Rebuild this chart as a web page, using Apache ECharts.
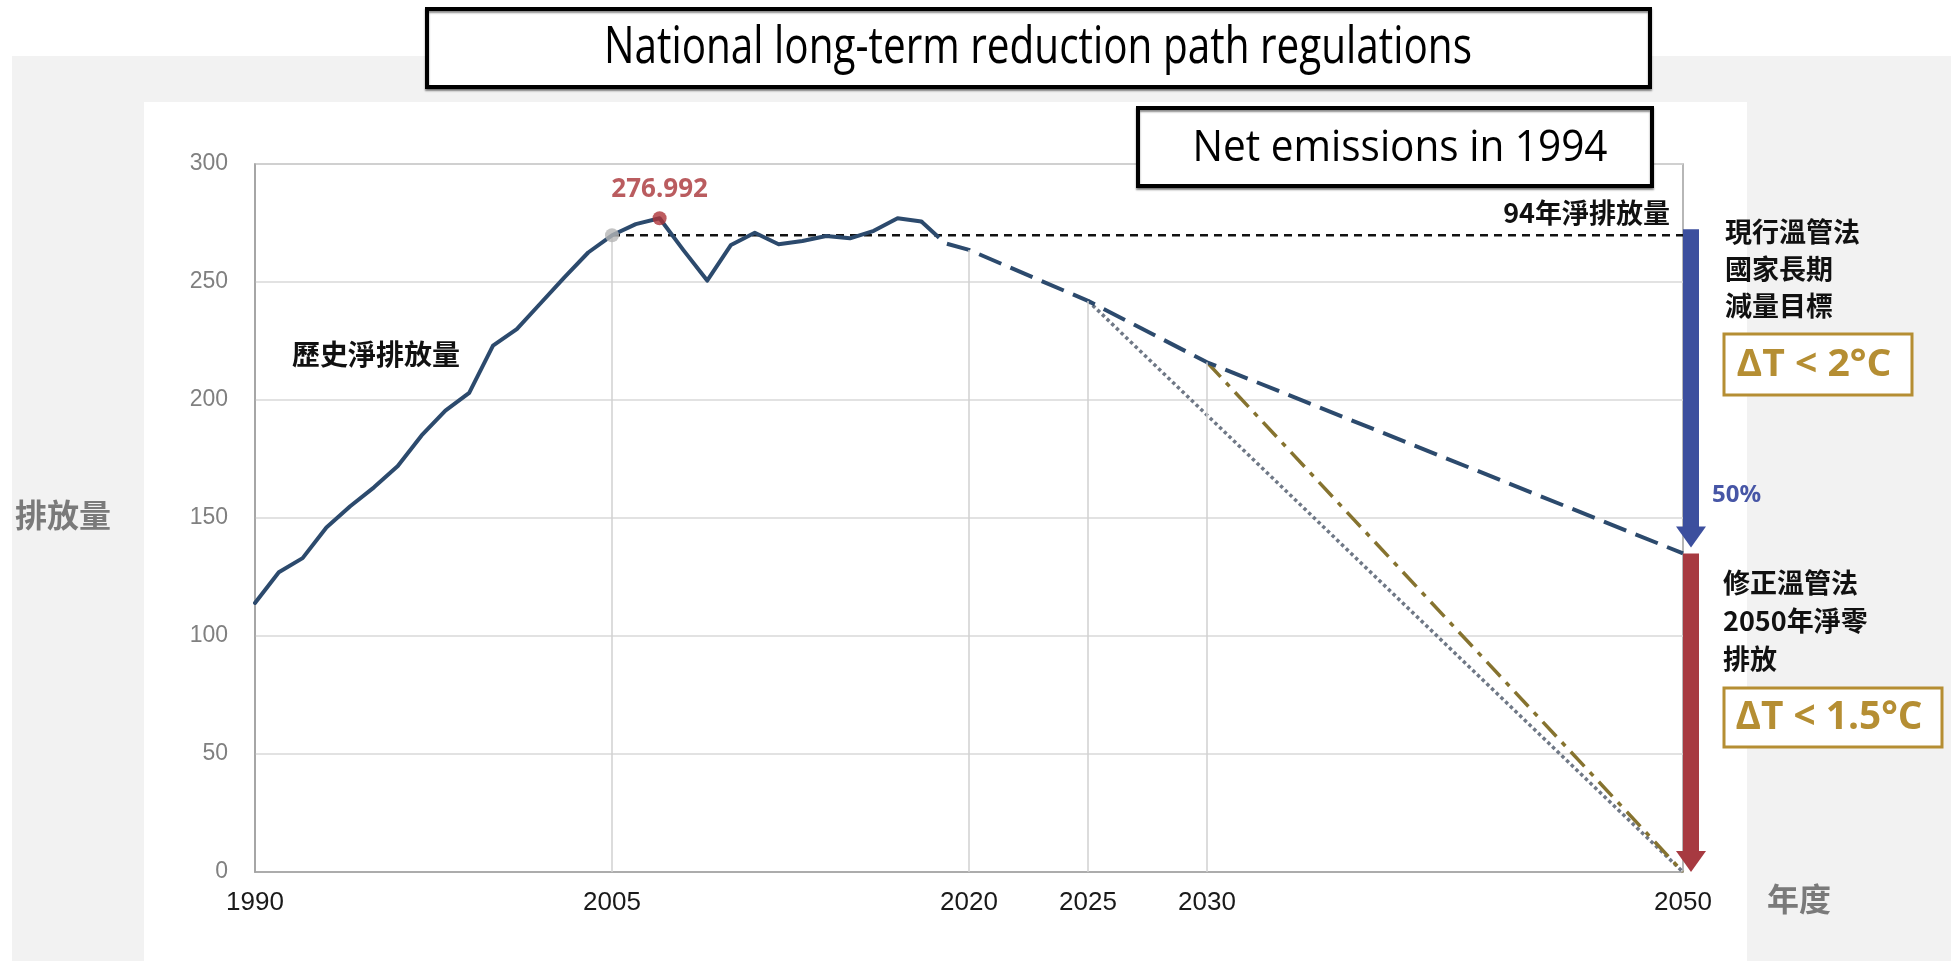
<!DOCTYPE html>
<html>
<head>
<meta charset="utf-8">
<script src="https://cdn.jsdelivr.net/npm/echarts@6/dist/echarts.min.js"></script>
<style>
  html, body { margin: 0; padding: 0; background: #ffffff; }
  #chart { width: 1951px; height: 961px; }
</style>
</head>
<body>
<div id="chart"></div>
<script>
// ---- Data -------------------------------------------------------------
// Historical net emissions (solid line)
const histYears  = [1990, 1991, 1992, 1993, 1994, 1995, 1996, 1997, 1998, 1999,
                    2000, 2001, 2002, 2003, 2004, 2005, 2006, 2007, 2008, 2009,
                    2010, 2011, 2012, 2013, 2014, 2015, 2016, 2017, 2018];
const histValues = [114, 127, 133, 146, 155, 163, 172, 185, 195.5, 203,
                    223, 230, 241, 252, 262.5, 269.8, 274.5, 276.992, 263.5, 250.6,
                    265.7, 270.9, 266, 267.4, 269.5, 268.5, 271.7, 277, 275.6];

// Long-term reduction path under the current act (dashed line)
const pathYears  = [2018, 2019, 2020, 2025, 2030, 2050];
const pathValues = [275.6, 266.4, 263.6, 242, 216, 135];

// Net-zero paths to 2050
const zeroPathYears  = [2025, 2050];
const zeroPathValues = [242, 0];
const altPathYears   = [2030, 2050];
const altPathValues  = [216, 0];

// Reference years
const baseYear   = 2005;   // 94年 net emissions
const peakYear   = 2007;
const targetYear = 2050;
const dropYears  = [2005, 2020, 2025, 2030];

// Axis ticks
const xTickLabels = [1990, 2005, 2020, 2025, 2030, 2050];
const yTickValues = [0, 50, 100, 150, 200, 250, 300];

// ---- Helpers ----------------------------------------------------------
function zip(xs, ys) { return xs.map((x, i) => [x, ys[i]]); }
function valueAt(year) {
  let i = histYears.indexOf(year);
  if (i >= 0) return histValues[i];
  i = pathYears.indexOf(year);
  return pathValues[i];
}
const measureCtx = document.createElement('canvas').getContext('2d');
function fitScale(text, weight, size, family, width) {
  measureCtx.font = weight + ' ' + size + 'px "' + family + '"';
  return width / measureCtx.measureText(text).width;
}

const baseValue   = valueAt(baseYear);
const targetValue = pathValues[pathYears.indexOf(targetYear)];

// ---- Styles -----------------------------------------------------------
const NAVY  = '#2c4a6d';
const GOLD  = '#b58e33';
const CJK   = 'Noto Sans CJK TC';
const ARROW = { offset: 8, shaft: 16, head: 30, headLen: 21, gap: 6, topExtend: 6,
                colors: ['#3c4f9e', '#a73a41'] };

// ---- Chart ------------------------------------------------------------
const chart = echarts.init(document.getElementById('chart'), null,
  { renderer: 'canvas', width: 1951, height: 961 });

function textEl(text, x, y, opt) {
  const size = opt.size, family = opt.family || CJK, weight = opt.weight || 'bold';
  const el = {
    type: 'text', x: x, y: y, z: 60, silent: true,
    style: {
      text: text, fontSize: size, fontFamily: family, fontWeight: weight,
      fill: opt.color || '#111111', textAlign: opt.align || 'left',
      textVerticalAlign: 'middle'
    }
  };
  if (opt.fitWidth) el.scaleX = fitScale(text, weight, size, family, opt.fitWidth);
  return el;
}

const graphics = [
  // page background bands
  { type: 'rect', z: -20, silent: true, shape: { x: 12, y: 56, width: 1939, height: 905 },
    style: { fill: '#f2f2f2' } },
  { type: 'rect', z: -19, silent: true, shape: { x: 144, y: 102, width: 1603, height: 859 },
    style: { fill: '#ffffff' } },

  // heading boxes
  { type: 'rect', z: 55, silent: true, shape: { x: 427, y: 9, width: 1223, height: 78 },
    style: { fill: '#ffffff', stroke: '#000000', lineWidth: 4,
             shadowColor: 'rgba(0,0,0,0.45)', shadowOffsetY: 2, shadowBlur: 2 } },
  textEl('National long-term reduction path regulations', 1038, 48,
         { size: 52, family: 'Open Sans', weight: 'normal', color: '#000', align: 'center', fitWidth: 868 }),
  { type: 'rect', z: 55, silent: true, shape: { x: 1138, y: 108, width: 514, height: 78 },
    style: { fill: '#ffffff', stroke: '#000000', lineWidth: 4,
             shadowColor: 'rgba(0,0,0,0.45)', shadowOffsetY: 2, shadowBlur: 2 } },
  textEl('Net emissions in 1994', 1400, 148,
         { size: 44, family: 'Open Sans', weight: 'normal', color: '#000', align: 'center', fitWidth: 415 }),

  // axis titles
  textEl('排放量', 15, 515, { size: 32, color: '#7a7a7a' }),
  textEl('年度', 1767, 899, { size: 32, color: '#7a7a7a' }),

  // in-plot notes
  textEl('歷史淨排放量', 292, 354, { size: 28 }),
  textEl('94年淨排放量', 1670, 213, { size: 27, align: 'right' }),

  // current act target
  textEl('現行溫管法', 1725, 232, { size: 27 }),
  textEl('國家長期', 1725, 269, { size: 27 }),
  textEl('減量目標', 1725, 306, { size: 27 }),
  { type: 'rect', z: 55, silent: true, shape: { x: 1724, y: 334, width: 188, height: 61 },
    style: { fill: '#ffffff', stroke: GOLD, lineWidth: 3 } },
  textEl('ΔT < 2°C', 1814, 365, { size: 38, family: 'Open Sans', color: GOLD, align: 'center', fitWidth: 155 }),
  textEl('50%', 1712, 495, { size: 24, family: 'Noto Sans', color: '#4756a6' }),

  // amended act target
  textEl('修正溫管法', 1723, 583, { size: 27 }),
  textEl('2050年淨零', 1723, 621, { size: 27 }),
  textEl('排放', 1723, 659, { size: 27 }),
  { type: 'rect', z: 55, silent: true, shape: { x: 1724, y: 688, width: 218, height: 59 },
    style: { fill: '#ffffff', stroke: GOLD, lineWidth: 3 } },
  textEl('ΔT < 1.5°C', 1829, 718, { size: 39, family: 'Open Sans', color: GOLD, align: 'center', fitWidth: 187 })
];

const option = {
  animation: false,
  backgroundColor: '#ffffff',
  grid: {
    left: 255, right: 268, top: 164, bottom: 89,
    show: true, backgroundColor: '#ffffff', borderColor: '#a0a0a0', borderWidth: 1.5,
    containLabel: false, outerBoundsMode: 'none'
  },
  xAxis: {
    type: 'value', min: 1990, max: 2050, interval: 5,
    axisLine: { show: true, lineStyle: { color: '#a0a0a0', width: 1.5 } },
    axisTick: { show: false },
    splitLine: { show: false },
    axisLabel: {
      customValues: xTickLabels,
      formatter: v => (xTickLabels.indexOf(v) >= 0 ? String(v) : ''),
      fontFamily: 'Liberation Sans', fontSize: 26, color: '#1a1a1a', margin: 18,
      showMinLabel: true, showMaxLabel: true
    }
  },
  yAxis: {
    type: 'value', min: yTickValues[0], max: yTickValues[yTickValues.length - 1], interval: 50,
    axisLine: { show: true, lineStyle: { color: '#a0a0a0', width: 1.5 } },
    axisTick: { show: false },
    splitLine: { show: true, lineStyle: { color: '#d9d9d9', width: 1.5 } },
    axisLabel: { fontFamily: 'Liberation Sans', fontSize: 23, color: '#808080', margin: 27 }
  },
  graphic: { elements: graphics },
  series: [
    {
      // 2050 net-zero path from 2025 (dotted), carries the year drop lines
      type: 'line', z: 2, silent: true, symbol: 'none',
      data: zip(zeroPathYears, zeroPathValues),
      lineStyle: { color: '#6f7886', width: 3.5, type: [3.5, 3] },
      markLine: {
        silent: true, symbol: 'none', animation: false,
        label: { show: false },
        lineStyle: { color: '#d0d0d0', width: 1.5, type: 'solid' },
        data: dropYears.map(y => [{ coord: [y, valueAt(y)] }, { coord: [y, 0] }])
      }
    },
    {
      // 2050 net-zero path from 2030 (dash-dot)
      type: 'line', z: 3, silent: true, symbol: 'none',
      data: zip(altPathYears, altPathValues),
      lineStyle: { color: '#86732f', width: 3.5, type: [20, 8, 5, 8] }
    },
    {
      // 94年 net emission level
      type: 'line', z: 3, silent: true, symbol: 'none',
      data: [[baseYear, baseValue], [targetYear, baseValue]],
      lineStyle: { color: '#111111', width: 2.5, type: [8, 6] }
    },
    {
      // reduction path under the current act
      type: 'line', z: 4, silent: true, symbol: 'none',
      data: zip(pathYears, pathValues),
      lineStyle: { color: NAVY, width: 4, type: [24, 10] }
    },
    {
      // historical net emissions
      type: 'line', z: 5, silent: true, symbol: 'none',
      data: zip(histYears, histValues),
      lineStyle: { color: NAVY, width: 4, cap: 'round', join: 'round' }
    },
    {
      // base year and peak markers
      type: 'scatter', z: 6, silent: true, symbolSize: 14,
      data: [
        { value: [baseYear, baseValue], itemStyle: { color: '#b5b5b5' } },
        { value: [peakYear, valueAt(peakYear)], itemStyle: { color: '#ad3338' },
          label: { show: true, position: 'top', distance: 9,
                   formatter: p => String(p.value[1]),
                   fontFamily: 'Noto Sans', fontWeight: 'bold', fontSize: 26, color: '#a93337' } }
      ]
    },
    {
      // reduction arrows at 2050
      type: 'custom', z: 7, silent: true, clip: false,
      encode: { x: 0, y: [1, 2] },
      data: [[targetYear, baseValue, targetValue, 0], [targetYear, targetValue, 0, 1]],
      renderItem: function (params, api) {
        const kind = api.value(3);
        const top = api.coord([api.value(0), api.value(1)]);
        const bot = api.coord([api.value(0), api.value(2)]);
        const cx = top[0] + ARROW.offset;
        const y0 = top[1] - (kind === 0 ? ARROW.topExtend : 0);
        const tipY = bot[1] - (kind === 0 ? ARROW.gap : 0);
        const headTop = tipY - ARROW.headLen;
        const color = ARROW.colors[kind];
        return {
          type: 'group',
          children: [
            { type: 'rect', shape: { x: cx - ARROW.shaft / 2, y: y0, width: ARROW.shaft, height: headTop - y0 + 1 },
              style: { fill: color } },
            { type: 'polygon', shape: { points: [[cx - ARROW.head / 2, headTop], [cx + ARROW.head / 2, headTop], [cx, tipY]] },
              style: { fill: color } }
          ]
        };
      }
    }
  ]
};

chart.setOption(option);
</script>
</body>
</html>
